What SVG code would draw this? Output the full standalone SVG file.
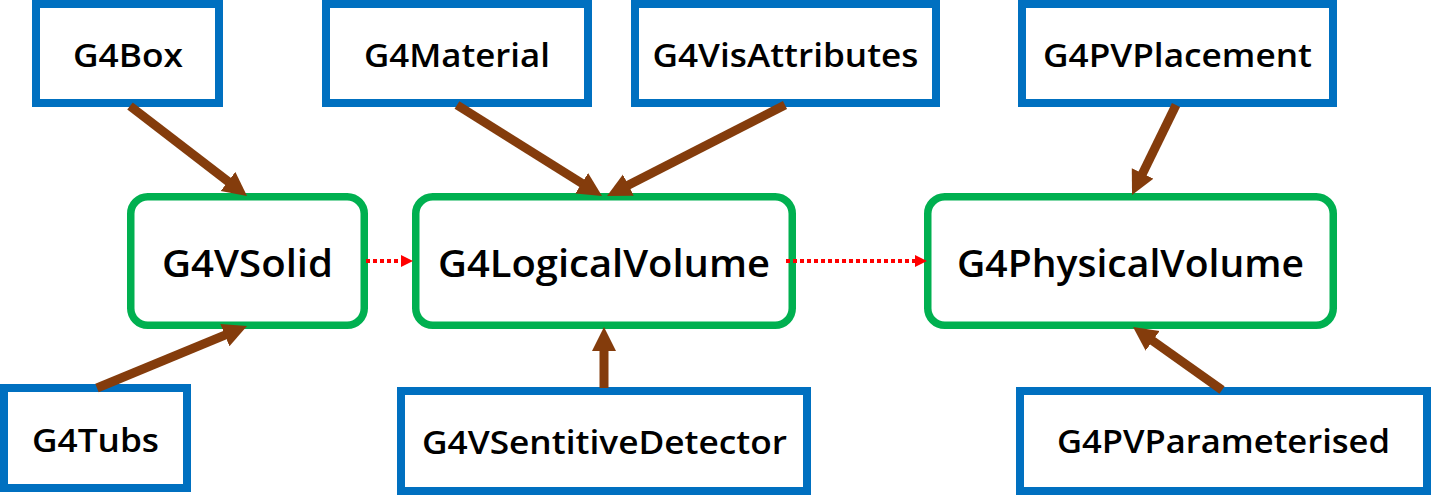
<svg xmlns="http://www.w3.org/2000/svg" width="1431" height="495" viewBox="0 0 1431 495">
  <style>
    .blue { fill: #ffffff; stroke: #0070C0; stroke-width: 8; }
    .green { fill: #ffffff; stroke: #00B050; stroke-width: 7.5; }
    .t { font-family: "Open Sans", "Noto Sans", sans-serif; fill: #000000; text-anchor: middle; font-weight: 600; }
    .tb { font-size: 33px; }
    .tg { font-size: 37px; }
    .brown { stroke: #843C0C; stroke-width: 9; fill: none; }
    .red { stroke: #FF0000; stroke-width: 4; stroke-dasharray: 4 3; fill: none; }
  </style>
  <defs>
    <marker id="ah" markerUnits="userSpaceOnUse" markerWidth="26" markerHeight="26" refX="2" refY="12" orient="auto">
      <path d="M0,0 L24,12 L0,24 Z" fill="#843C0C"/>
    </marker>
    <marker id="rh" markerUnits="userSpaceOnUse" markerWidth="14" markerHeight="14" refX="1" refY="6" orient="auto">
      <path d="M0,0 L12,6 L0,12 Z" fill="#FF0000"/>
    </marker>
  </defs>
  <rect x="0" y="0" width="1431" height="495" fill="#ffffff"/>

  <g id="G4Box">
    <rect class="blue" x="36" y="4" width="183" height="99"/>
    <text class="t tb" x="128" y="67" textLength="110" lengthAdjust="spacingAndGlyphs">G4Box</text>
  </g>
  <g id="G4Material">
    <rect class="blue" x="326" y="4" width="262" height="99"/>
    <text class="t tb" x="457" y="67" textLength="186" lengthAdjust="spacingAndGlyphs">G4Material</text>
  </g>
  <g id="G4VisAttributes">
    <rect class="blue" x="635" y="4" width="301" height="99"/>
    <text class="t tb" x="785.5" y="67" textLength="266" lengthAdjust="spacingAndGlyphs">G4VisAttributes</text>
  </g>
  <g id="G4PVPlacement">
    <rect class="blue" x="1022" y="4" width="311" height="99"/>
    <text class="t tb" x="1177.5" y="67" textLength="269" lengthAdjust="spacingAndGlyphs">G4PVPlacement</text>
  </g>
  <g id="G4VSolid">
    <rect class="green" x="130.75" y="196.75" width="233.5" height="128.5" rx="17" ry="17"/>
    <text class="t tg" x="247.5" y="277" textLength="171" lengthAdjust="spacingAndGlyphs">G4VSolid</text>
  </g>
  <g id="G4LogicalVolume">
    <rect class="green" x="415.75" y="196.75" width="376.5" height="128.5" rx="17" ry="17"/>
    <text class="t tg" x="604" y="277" textLength="332" lengthAdjust="spacingAndGlyphs">G4LogicalVolume</text>
  </g>
  <g id="G4PhysicalVolume">
    <rect class="green" x="927.75" y="196.75" width="405.5" height="128.5" rx="17" ry="17"/>
    <text class="t tg" x="1130.5" y="277" textLength="347" lengthAdjust="spacingAndGlyphs">G4PhysicalVolume</text>
  </g>
  <g id="G4Tubs">
    <rect class="blue" x="4" y="388" width="183" height="100"/>
    <text class="t tb" x="95.5" y="452" textLength="127" lengthAdjust="spacingAndGlyphs">G4Tubs</text>
  </g>
  <g id="G4VSentitiveDetector">
    <rect class="blue" x="401" y="391" width="406" height="100"/>
    <text class="t tb" x="604.5" y="454" textLength="365" lengthAdjust="spacingAndGlyphs">G4VSentitiveDetector</text>
  </g>
  <g id="G4PVParameterised">
    <rect class="blue" x="1020" y="391" width="407" height="100"/>
    <text class="t tb" x="1223.5" y="453" textLength="333" lengthAdjust="spacingAndGlyphs">G4PVParameterised</text>
  </g>

  <g id="connectors">
    <line class="brown" x1="130" y1="106" x2="229.6" y2="182.6" marker-end="url(#ah)"/>
    <line class="brown" x1="97" y1="388" x2="226.7" y2="334.4" marker-end="url(#ah)"/>
    <line class="brown" x1="457" y1="105" x2="583.4" y2="184.3" marker-end="url(#ah)"/>
    <line class="brown" x1="785" y1="105" x2="626.6" y2="186.0" marker-end="url(#ah)"/>
    <line class="brown" x1="604" y1="388" x2="604" y2="349" marker-end="url(#ah)"/>
    <line class="brown" x1="1176" y1="105" x2="1141.7" y2="175.2" marker-end="url(#ah)"/>
    <line class="brown" x1="1222" y1="390" x2="1151.0" y2="339.7" marker-end="url(#ah)"/>
    <line class="red" x1="366" y1="261" x2="402" y2="261" marker-end="url(#rh)"/>
    <line class="red" x1="786" y1="261" x2="916" y2="261" marker-end="url(#rh)"/>
  </g>
</svg>
